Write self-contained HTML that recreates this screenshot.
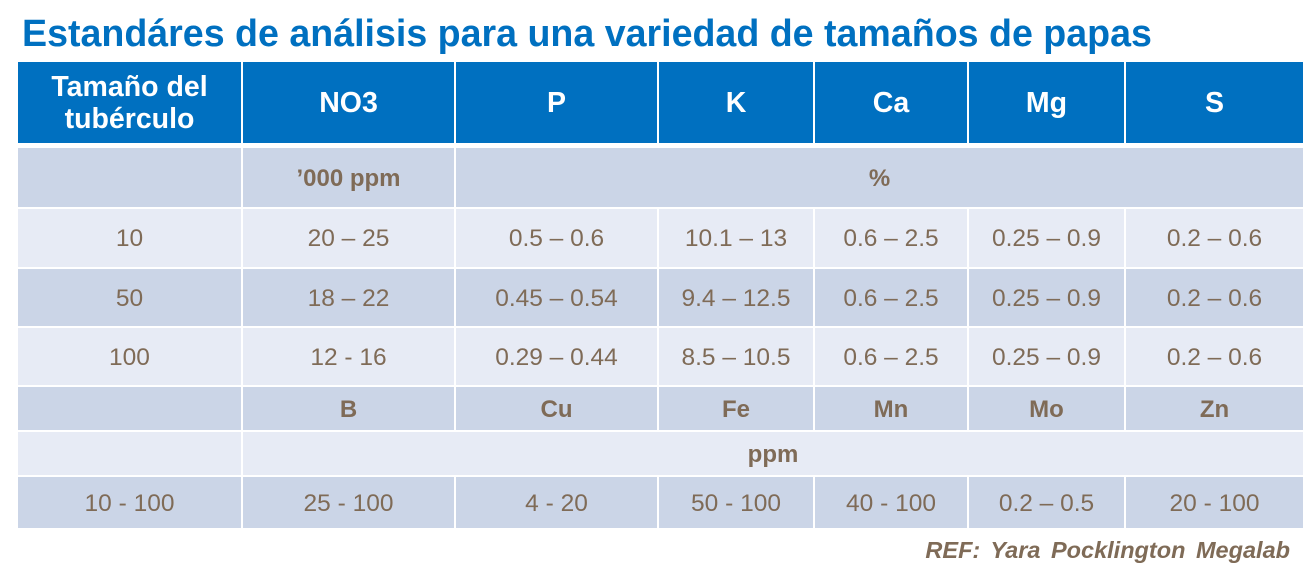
<!DOCTYPE html>
<html><head><meta charset="utf-8"><style>
body{margin:0;width:1305px;height:579px;background:#fff;position:relative;overflow:hidden;font-family:"Liberation Sans",sans-serif}
.t{position:absolute;left:22px;top:12px;font-size:37.6px;font-weight:bold;color:#0070C0;white-space:nowrap}
.c{position:absolute;display:flex;align-items:center;justify-content:center;text-align:center;font-size:24.5px;color:#7F6B57;padding-top:2px;box-sizing:border-box}
.h{background:#0070C0;color:#fff;font-weight:bold;font-size:28.5px;line-height:32px;padding-top:0}
.d{background:#CBD5E7}.l{background:#E7EBF5}.b{font-weight:bold;font-size:24px}
.ref{position:absolute;right:15px;top:537px;font-size:23.5px;font-weight:bold;font-style:italic;color:#7F6B57;word-spacing:4px}
</style></head><body>
<div class="t">Estandáres de análisis para una variedad de tamaños de papas</div>
<div id="g"></div>
<div class="ref">REF: Yara Pocklington Megalab</div>
<script>
var xs=[18,242,455,658,814,968,1125,1304];
var rows=[
[62,143,'h',['Tamaño del<br>tubérculo','NO3','P','K','Ca','Mg','S']],
[148,207,'d b',['','’000 ppm',['%',5]]],
[209,267,'l',['10','20 – 25','0.5 – 0.6','10.1 – 13','0.6 – 2.5','0.25 – 0.9','0.2 – 0.6']],
[269,326,'d',['50','18 – 22','0.45 – 0.54','9.4 – 12.5','0.6 – 2.5','0.25 – 0.9','0.2 – 0.6']],
[328,385,'l',['100','12 - 16','0.29 – 0.44','8.5 – 10.5','0.6 – 2.5','0.25 – 0.9','0.2 – 0.6']],
[387,430,'d b',['','B','Cu','Fe','Mn','Mo','Zn']],
[432,475,'l b',['',['ppm',6]]],
[477,528,'d',['10 - 100','25 - 100','4 - 20','50 - 100','40 - 100','0.2 – 0.5','20 - 100']]
];
var h='';
rows.forEach(function(r){var ci=0;r[3].forEach(function(c){var span=1,txt=c;if(Array.isArray(c)){txt=c[0];span=c[1];}
var x0=xs[ci]+(ci?1:0),x1=xs[ci+span]-1;
h+='<div class="c '+r[2]+'" style="left:'+x0+'px;top:'+r[0]+'px;width:'+(x1-x0)+'px;height:'+(r[1]-r[0])+'px">'+txt+'</div>';ci+=span;});});
document.getElementById('g').innerHTML=h;
</script>
</body></html>
